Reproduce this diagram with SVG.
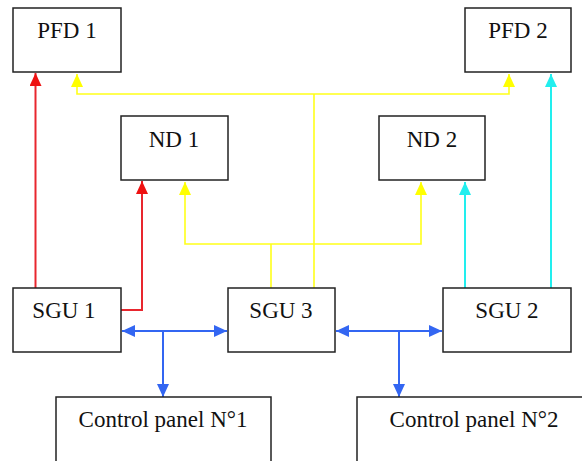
<svg xmlns="http://www.w3.org/2000/svg" width="582" height="461" viewBox="0 0 582 461">
<style>
.box{fill:#fff;stroke:#222;stroke-width:1.5}
.lbl{font-family:"Liberation Serif","Times New Roman",serif;font-size:23px;fill:#111;text-anchor:middle}
.c{fill:none;stroke-linejoin:miter}
.red{stroke:#e8262e;stroke-width:2}
.yel{stroke:#ffff1a;stroke-width:1.6}
.cya{stroke:#22eeee;stroke-width:2}
.blu{stroke:#3366f2;stroke-width:2}
</style>
<defs>
<marker id="ar" markerUnits="userSpaceOnUse" markerWidth="14" markerHeight="13" refX="13" refY="6" orient="auto"><path d="M0,0 L13,6 L0,12 z" fill="#ee1111"/></marker>
<marker id="ay" markerUnits="userSpaceOnUse" markerWidth="14" markerHeight="13" refX="13" refY="6" orient="auto"><path d="M0,0 L13,6 L0,12 z" fill="#ffff00"/></marker>
<marker id="ac" markerUnits="userSpaceOnUse" markerWidth="14" markerHeight="13" refX="13" refY="6" orient="auto"><path d="M0,0 L13,6 L0,12 z" fill="#22eeee"/></marker>
<marker id="ab" markerUnits="userSpaceOnUse" markerWidth="14" markerHeight="13" refX="13" refY="6" orient="auto-start-reverse"><path d="M0,0 L13,6 L0,12 z" fill="#3366f2"/></marker>
</defs>
<rect width="582" height="461" fill="#fff"/>
<g id="connectors">
<path class="c red" d="M35.5,288 V73" marker-end="url(#ar)"/>
<path class="c red" d="M121,310 H142 V181" marker-end="url(#ar)"/>
<path class="c yel" d="M314,290 V94"/>
<path class="c yel" d="M314,94 H77 V74" marker-end="url(#ay)"/>
<path class="c yel" d="M314,94 H509 V74" marker-end="url(#ay)"/>
<path class="c yel" d="M271,290 V244"/>
<path class="c yel" d="M271,244 H185 V182" marker-end="url(#ay)"/>
<path class="c yel" d="M271,244 H421 V182" marker-end="url(#ay)"/>
<path class="c cya" d="M465,289 V182" marker-end="url(#ac)"/>
<path class="c cya" d="M551,289 V74" marker-end="url(#ac)"/>
<path class="c blu" d="M122,331 H227" marker-start="url(#ab)" marker-end="url(#ab)"/>
<path class="c blu" d="M163,331 V397" marker-end="url(#ab)"/>
<path class="c blu" d="M336,331 H442" marker-start="url(#ab)" marker-end="url(#ab)"/>
<path class="c blu" d="M399,331 V397" marker-end="url(#ab)"/>
</g>
<g id="pfd1"><rect class="box" x="13" y="8" width="108" height="64"/><text class="lbl" x="67" y="38">PFD 1</text></g>
<g id="pfd2"><rect class="box" x="465" y="8" width="106" height="64"/><text class="lbl" x="518" y="38">PFD 2</text></g>
<g id="nd1"><rect class="box" x="121" y="116" width="107" height="64"/><text class="lbl" x="174" y="147">ND 1</text></g>
<g id="nd2"><rect class="box" x="379" y="116" width="106" height="64"/><text class="lbl" x="432" y="147">ND 2</text></g>
<g id="sgu1"><rect class="box" x="13" y="288" width="108" height="64"/><text class="lbl" x="64" y="318">SGU 1</text></g>
<g id="sgu3"><rect class="box" x="228" y="288" width="107" height="64"/><text class="lbl" x="281" y="318">SGU 3</text></g>
<g id="sgu2"><rect class="box" x="443" y="288" width="128" height="64"/><text class="lbl" x="507" y="318">SGU 2</text></g>
<g id="cp1"><rect class="box" x="56" y="397" width="215" height="80"/><text class="lbl" x="163" y="427">Control panel N°1</text></g>
<g id="cp2"><rect class="box" x="357" y="397" width="240" height="80"/><text class="lbl" x="474" y="427">Control panel N°2</text></g>
</svg>
